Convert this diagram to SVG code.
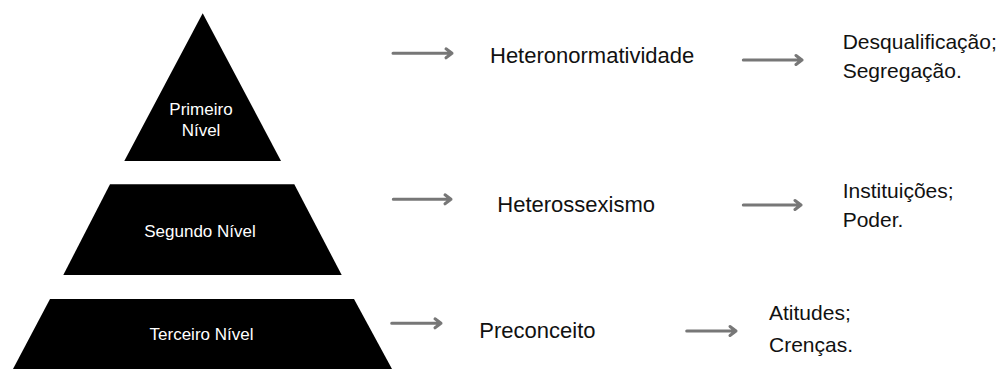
<svg xmlns="http://www.w3.org/2000/svg" width="999" height="369" viewBox="0 0 999 369">
<style>
.lvl{fill:#000}
.lt{font-family:"Liberation Sans",Arial,sans-serif;font-size:17px;fill:#fff;text-anchor:middle}
.mt{font-family:"Liberation Sans",Arial,sans-serif;font-size:22px;fill:#111}
.rt{font-family:"Liberation Sans",Arial,sans-serif;font-size:21px;fill:#111}
.ar{stroke:#777;stroke-width:3;fill:none;stroke-linecap:round;stroke-linejoin:round}
</style>
<rect width="999" height="369" fill="#fff"/>
<g id="nivel1">
<polygon class="lvl" points="202.7,13.3 281,161 124.3,161"/>
<text class="lt" x="201" y="115">Primeiro</text>
<text class="lt" x="201" y="136">Nível</text>
</g>
<g id="nivel2">
<polygon class="lvl" points="110,184.3 294.3,184.3 341.7,275 63.3,275"/>
<text class="lt" x="200" y="237">Segundo Nível</text>
</g>
<g id="nivel3">
<polygon class="lvl" points="50,299 354,299 392,369 13,369"/>
<text class="lt" x="201.5" y="340">Terceiro Nível</text>
</g>
<g id="connectors">
<path class="ar" d="M393,53.3H452M446,48.8L452,53.3L446,57.8"/>
<path class="ar" d="M743.3,60H802M796,55.5L802,60L796,64.5"/>
<path class="ar" d="M393.3,199.3H451M445,194.8L451,199.3L445,203.8"/>
<path class="ar" d="M743.3,205H801M795,200.5L801,205L795,209.5"/>
<path class="ar" d="M391.7,323.3H441M435,318.8L441,323.3L435,327.8"/>
<path class="ar" d="M686.7,331H736M730,326.5L736,331L730,335.5"/>
</g>
<g id="heteronormatividade"><text class="mt" x="490" y="62.7">Heteronormatividade</text></g>
<g id="heterossexismo"><text class="mt" x="497.3" y="211.7">Heterossexismo</text></g>
<g id="preconceito"><text class="mt" x="479.3" y="338">Preconceito</text></g>
<g id="desqualificacao">
<text class="rt" x="842.7" y="49">Desqualificação;</text>
<text class="rt" x="842.7" y="78">Segregação.</text>
</g>
<g id="instituicoes">
<text class="rt" x="842.7" y="198.3">Instituições;</text>
<text class="rt" x="842.7" y="226.7">Poder.</text>
</g>
<g id="atitudes">
<text class="rt" x="769" y="320">Atitudes;</text>
<text class="rt" x="769" y="351.7">Crenças.</text>
</g>
</svg>
